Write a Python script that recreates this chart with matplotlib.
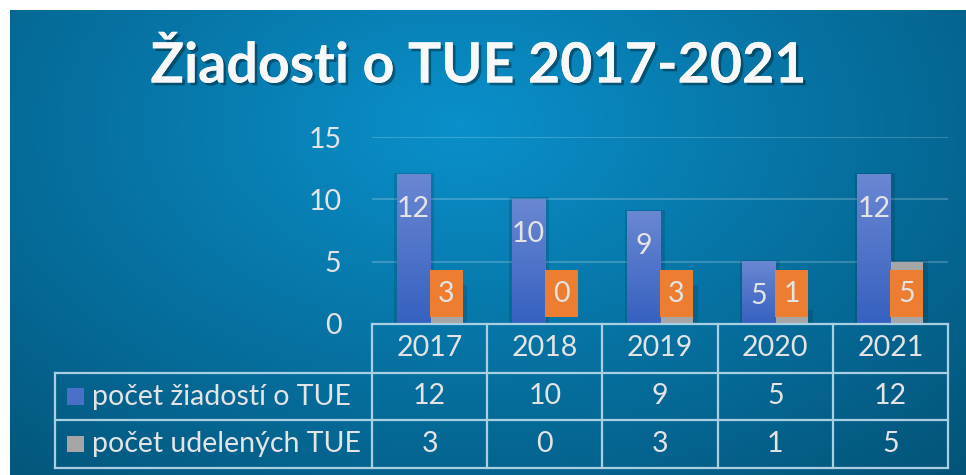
import numpy as np
import matplotlib.pyplot as plt
import matplotlib.patheffects as pe
from matplotlib.patches import Rectangle

plt.rcParams['font.family'] = ['Lato', 'DejaVu Sans']

# data
roky = ['2017', '2018', '2019', '2020', '2021']
ziadosti = [12, 10, 9, 5, 12]
udelene = [3, 0, 3, 1, 5]
nazvy = ['počet žiadostí o TUE', 'počet udelených TUE']
nadpis = 'Žiadosti o TUE 2017-2021'

W, H = 966, 475
txt = '#e4e4e4'
modra = '#4a6fc8'
siva = '#a6a6a6'
oranz = '#ed7d31'
ciara = '#a9cfe3'
fs = 20.5

fig = plt.figure(figsize=(W / 100, H / 100), dpi=100)
fig.patch.set_facecolor('white')

# pozadie - radialny gradient
bg = fig.add_axes([10 / W, 0, 1 - 10 / W, 1 - 10 / H])
bg.axis('off')
yy, xx = np.mgrid[0:1:300j, 0:1:600j]
r = np.sqrt(((xx - 0.47) / 0.75) ** 2 + ((yy - 0.25) / 1.0) ** 2)
r = np.clip(r, 0, 1)
c0 = np.array([0x0a, 0x90, 0xcb]) / 255
c1 = np.array([0x03, 0x55, 0x7a]) / 255
img = c0[None, None, :] * (1 - r[..., None]) + c1[None, None, :] * r[..., None]
bg.imshow(img, aspect='auto', extent=[0, 1, 1, 0], interpolation='bicubic')
bg.set_xlim(0, 1)
bg.set_ylim(1, 0)

# nadpis
fig.text(478 / W, 1 - 66 / H, nadpis, ha='center', va='center', fontsize=40,
         fontweight='bold', color='#f8f8f8',
         path_effects=[pe.withSimplePatchShadow(offset=(2, -2), shadow_rgbFace='black', alpha=0.35),
                       pe.Normal()])

# hlavny graf
ax = fig.add_axes([372 / W, (H - 324) / H, 576 / W, 187 / H])
ax.patch.set_alpha(0)
ax.set_xlim(-0.5, 4.5)
ax.set_ylim(0, 15)
ax.set_yticks([0, 5, 10, 15])
for s in ax.spines.values():
    s.set_visible(False)
ax.tick_params(axis='y', length=0, labelsize=fs, labelcolor=txt, pad=22)
ax.tick_params(axis='x', length=0, labelbottom=False)
ax.grid(axis='y', color='white', alpha=0.2, linewidth=1.5)
ax.set_axisbelow(True)

x = np.arange(len(roky))
w = 0.287
b1 = ax.bar(x - w / 2, ziadosti, w, color=modra, zorder=3)
b2 = ax.bar(x + w / 2, udelene, w, color=siva, zorder=3)

# gradient na modrych stlpcoch + tien
grad = np.linspace(0, 1, 100)[:, None]
top = np.array([0x6a, 0x87, 0xd2]) / 255
bot = np.array([0x36, 0x61, 0xc0]) / 255
gimg = top[None, None, :] * (1 - grad[..., None]) + bot[None, None, :] * grad[..., None]
for b in b1:
    x0, h = b.get_x(), b.get_height()
    ax.add_patch(Rectangle((x0 - 0.02, 0), w + 0.06, h + 0.15, color='black', alpha=0.12, zorder=2, lw=0))
    ax.imshow(gimg, extent=[x0, x0 + w, 0, h], aspect='auto', zorder=3.5)
for b in b2:
    x0, h = b.get_x(), b.get_height()
    if h > 0:
        ax.add_patch(Rectangle((x0 + 0.02, 0), w + 0.02, h + 0.1, color='black', alpha=0.12, zorder=2, lw=0))
ax.set_xlim(-0.5, 4.5)
ax.set_ylim(0, 15)

# popisky modrych stlpcov
for b, v in zip(b1, ziadosti):
    ax.text(b.get_x() + w / 2, v - 2.75, str(v), ha='center', va='center',
            fontsize=fs, color=txt, zorder=5)

# oranzove popisky sivych stlpcov
for b, v in zip(b2, udelene):
    ax.add_patch(Rectangle((b.get_x(), 0.56), w, 3.77, color=oranz, zorder=4, lw=0))
    ax.text(b.get_x() + w / 2, 2.44, str(v), ha='center', va='center',
            fontsize=fs, color=txt, zorder=5)

# tabulka pod grafom
ppu = 187 / 15
r0, r1, r2, r3 = 0, -49 / ppu, -96 / ppu, -144 / ppu
xl = -0.5 - (372 - 55) / 115.2
lk = dict(color=ciara, lw=1.6, clip_on=False, zorder=6)
ax.plot([-0.5, 4.5], [r0, r0], **lk)
for yv in (r1, r2, r3):
    ax.plot([xl, 4.5], [yv, yv], **lk)
for xv in np.arange(-0.5, 5, 1):
    ax.plot([xv, xv], [r0, r3], **lk)
ax.plot([xl, xl], [r1, r3], **lk)

for i, rok in enumerate(roky):
    ax.text(i, (r0 + r1) / 2, rok, ha='center', va='center', fontsize=fs, color=txt, clip_on=False)
    ax.text(i, (r1 + r2) / 2, str(ziadosti[i]), ha='center', va='center', fontsize=fs, color=txt, clip_on=False)
    ax.text(i, (r2 + r3) / 2, str(udelene[i]), ha='center', va='center', fontsize=fs, color=txt, clip_on=False)

sq = 17 / 115.2
for (ya, yb), nazov, farba in zip([(r1, r2), (r2, r3)], nazvy, [modra, siva]):
    ym = (ya + yb) / 2
    ax.add_patch(Rectangle((xl + 12 / 115.2, ym - 0.68), sq, 1.36, color=farba, clip_on=False, zorder=6, lw=0))
    ax.text(xl + 37 / 115.2, ym, nazov, ha='left', va='center', fontsize=fs, color=txt, clip_on=False)

fig.savefig('out.png', dpi=100, facecolor=fig.get_facecolor())
